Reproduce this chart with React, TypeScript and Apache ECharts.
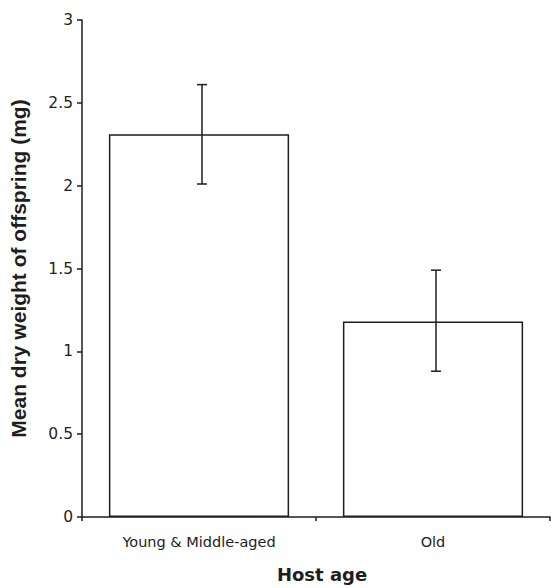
import React, { useEffect, useRef } from "react";
import * as echarts from "echarts";

const categories = ["Young & Middle-aged", "Old"];
const means = [2.31, 1.18];
const errLow = [2.01, 0.88];
const errHigh = [2.61, 1.49];
const yMin = 0;
const yMax = 3;
const yInterval = 0.5;

const INK = "#1e1e1e";
const FONT = "'Liberation Sans', Arial, Helvetica, sans-serif";
const WIDE = "'DejaVu Sans', 'Liberation Sans', sans-serif";

export default function App() {
  const ref = useRef<HTMLDivElement>(null);
  useEffect(() => {
    if (!ref.current) return;
    const chart = echarts.init(ref.current, undefined, { renderer: "svg" });
    chart.setOption({
      animation: false,
      backgroundColor: "#ffffff",
      textStyle: { fontFamily: FONT },
      grid: { left: 82, right: 1, top: 20, bottom: 71 },
      xAxis: {
        type: "category",
        data: categories,
        name: "Host age",
        nameLocation: "middle",
        nameGap: 48,
        nameTextStyle: {
          fontSize: 18,
          fontWeight: "bold",
          color: INK,
          fontFamily: WIDE,
          padding: [0, 0, 0, 12],
        },
        axisLine: { lineStyle: { color: INK, width: 1.5 } },
        axisTick: { show: true, alignWithLabel: false, length: 4, lineStyle: { color: INK, width: 1.5 } },
        axisLabel: { color: INK, fontSize: 14.5, margin: 17, fontFamily: WIDE },
        splitLine: { show: false },
      },
      yAxis: {
        type: "value",
        min: yMin,
        max: yMax,
        interval: yInterval,
        name: "Mean dry weight of offspring (mg)",
        nameLocation: "middle",
        nameGap: 53,
        nameTextStyle: { fontSize: 21, fontWeight: "bold", color: INK, fontFamily: FONT },
        axisLine: { show: true, lineStyle: { color: INK, width: 1.5 } },
        axisTick: { show: true, length: 5, lineStyle: { color: INK, width: 1.5 } },
        axisLabel: { color: INK, fontSize: 15.5, margin: 9, fontFamily: WIDE },
        splitLine: { show: false },
      },
      series: [
        {
          type: "bar",
          data: means,
          barWidth: "77%",
          itemStyle: { color: "#ffffff", borderColor: INK, borderWidth: 1.5 },
          z: 2,
        },
        {
          type: "custom",
          z: 3,
          data: categories.map((_, i) => [i, errLow[i], errHigh[i]]),
          renderItem: (params: any, api: any) => {
            const x = api.value(0);
            const lo = api.coord([x, api.value(1)]);
            const hi = api.coord([x, api.value(2)]);
            const cx = lo[0] + 3;
            const hw = 5;
            const style = { stroke: INK, lineWidth: 1.5, fill: "none" };
            return {
              type: "group",
              children: [
                { type: "line", shape: { x1: cx, y1: hi[1], x2: cx, y2: lo[1] }, style },
                { type: "line", shape: { x1: cx - hw, y1: hi[1], x2: cx + hw, y2: hi[1] }, style },
                { type: "line", shape: { x1: cx - hw, y1: lo[1], x2: cx + hw, y2: lo[1] }, style },
              ],
            };
          },
        },
      ],
    });
    return () => chart.dispose();
  }, []);
  return (
    <div
      ref={ref}
      style={{ position: "fixed", left: 0, top: 0, width: 551, height: 588, background: "#fff" }}
    />
  );
}
